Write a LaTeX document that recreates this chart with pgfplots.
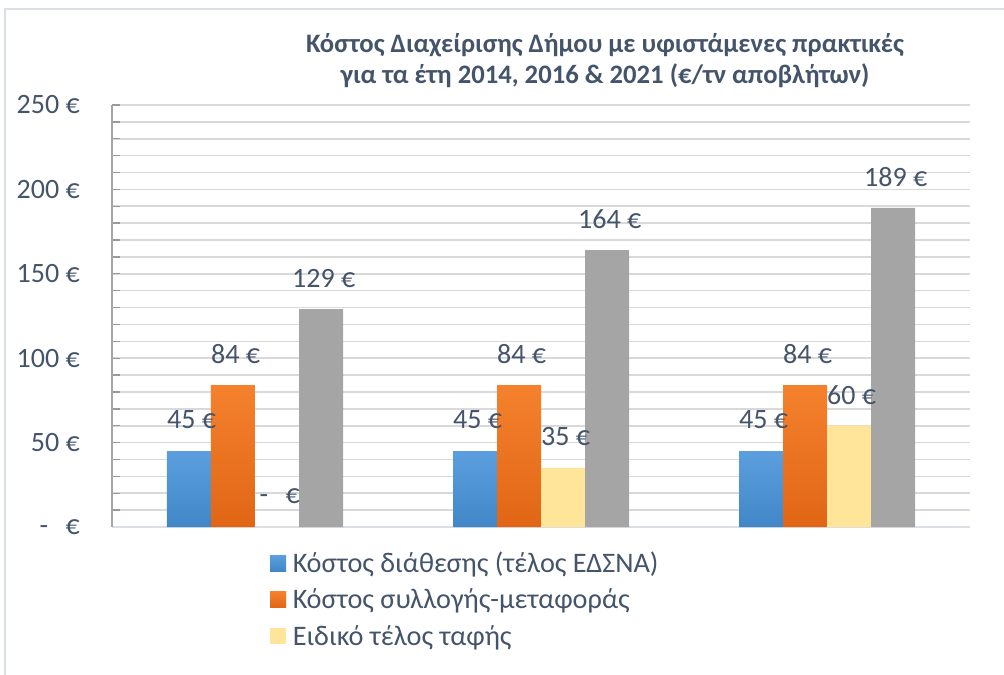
\documentclass[border=0pt]{standalone}
\usepackage{fontspec}
\setmainfont{Carlito}
\usepackage{pgfplots}
\pgfplotsset{compat=1.18}

\definecolor{txt}{HTML}{44546A}
\definecolor{gridc}{HTML}{D9D9D9}
\definecolor{framec}{HTML}{DADFE6}
\definecolor{blueT}{HTML}{5B9FDF}
\definecolor{blueB}{HTML}{4186C6}
\definecolor{orangeT}{HTML}{F5812D}
\definecolor{orangeB}{HTML}{E06615}
\definecolor{yell}{HTML}{FFE599}
\definecolor{grayb}{HTML}{A5A5A5}

\pgfplotsset{
  sq/.style={legend image code/.code={\fill[##1] (0pt,-6pt) rectangle (12pt,6pt);}},
}

\begin{document}
\begin{tikzpicture}
\useasboundingbox (-84pt,-111pt) rectangle (669pt,395.25pt);
\draw[framec, line width=1.5pt] (-79.9pt,-111pt) -- (-79.9pt,388.5pt) -- (669pt,388.5pt);
\begin{axis}[
  scale only axis, width=643.5pt, height=316.5pt,
  at={(0pt,0pt)}, anchor=south west,
  ybar=0pt, bar width=33pt,
  xmin=-0.5, xmax=2.5, ymin=0, ymax=250,
  enlargelimits=false,
  xtick=\empty,
  ytick={0,50,100,150,200,250},
  yticklabels={{-\hspace{13pt}€},{50 €},{100 €},{150 €},{200 €},{250 €}},
  minor y tick num=4,
  ymajorgrids, yminorgrids,
  major grid style={gridc, line width=1.2pt},
  minor grid style={gridc, line width=1.2pt},
  axis x line*=bottom, axis y line*=left,
  x axis line style={-, framec, line width=1.5pt},
  y axis line style={-, gray!70, line width=1pt},
  tick align=inside,
  major tick length=6pt, minor tick length=6pt,
  tick style={gray!80, line width=1pt},
  ticklabel style={font=\fontsize{21}{25}\selectfont, text=txt},
  yticklabel style={anchor=east, inner sep=0pt, xshift=-24pt},
  title={Κόστος Διαχείρισης Δήμου με υφιστάμενες πρακτικές\\για τα έτη 2014, 2016 \& 2021 (€/τν αποβλήτων)},
  title style={at={(0.5746,1)}, anchor=center, yshift=27pt, align=center,
    font=\bfseries\fontsize{20}{23.25}\selectfont, text=txt},
  point meta=explicit symbolic,
  nodes near coords={\pgfplotspointmeta},
  every node near coord/.append style={font=\fontsize{21}{25}\selectfont, text=txt,
    anchor=center, yshift=23.25pt, xshift=2pt},
  legend style={at={(0.184,-0.052)}, anchor=north west, draw=none, fill=none,
    font=\fontsize{21.2}{25}\selectfont, text=txt, inner sep=0pt, row sep=6.8pt,
    cells={anchor=west}, nodes={inner xsep=5pt}},
]
\addplot[draw=none, top color=blueT, bottom color=blueB, sq]
  coordinates {(0,45) [45 €] (1,45) [45 €] (2,45) [45 €]};
\addplot[draw=none, top color=orangeT, bottom color=orangeB, sq]
  coordinates {(0,84) [84 €] (1,84) [84 €] (2,84) [84 €]};
\addplot[draw=none, fill=yell, sq]
  coordinates {(0,0) [-\hspace{13pt}€] (1,35) [35 €] (2,60) [60 €]};
\addplot[draw=none, fill=grayb, sq]
  coordinates {(0,129) [129 €] (1,164) [164 €] (2,189) [189 €]};
\legend{Κόστος διάθεσης (τέλος ΕΔΣΝΑ), Κόστος συλλογής-μεταφοράς, Ειδικό τέλος ταφής}
\end{axis}
\end{tikzpicture}
\end{document}
